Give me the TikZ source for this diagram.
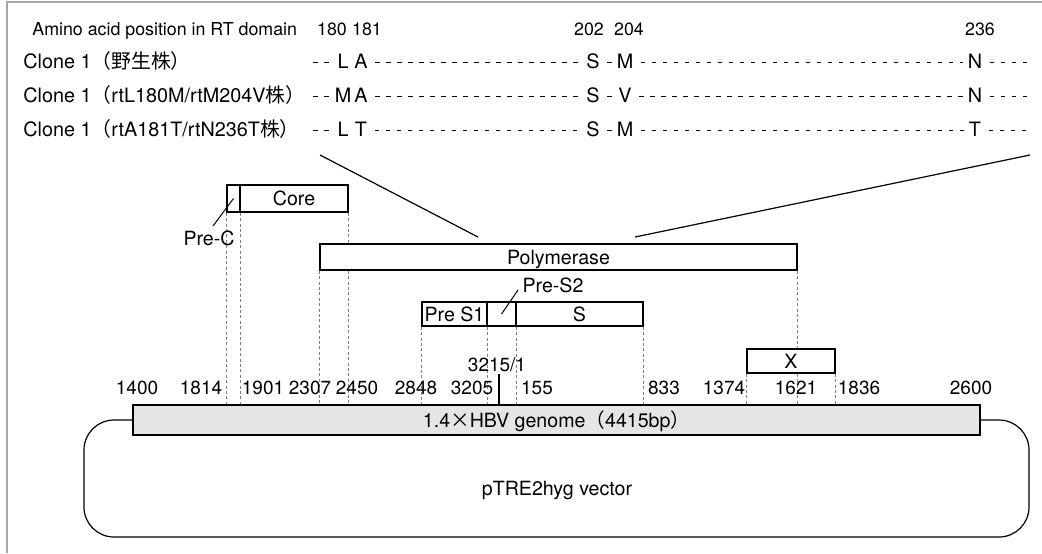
\documentclass[tikz,border=0pt]{standalone}
\usepackage{fontspec}
\setmainfont{TeX Gyre Heros}
\newfontfamily\cjk{Noto Sans CJK JP}
\usetikzlibrary{fit}

\newcommand{\lab}{\fontsize{9.8}{11}\selectfont}
\newcommand{\numf}{\fontsize{9.5}{11}\selectfont}
\newcommand{\hdr}{\fontsize{8.9}{10}\selectfont}
\newcommand{\cln}{\fontsize{9.9}{11}\selectfont}

\begin{document}
\begin{tikzpicture}[x=0.5pt, y=-0.5pt,
  gene/.style={draw, line width=0.7pt, inner sep=0pt},
  boxlab/.style={inner sep=0pt, font=\lab, text height=7pt, text depth=0pt},
  guide/.style={draw=black!50, line width=0.4pt, dash pattern=on 1.5pt off 1.2pt},
  numlab/.style={inner sep=0pt, anchor=base, font=\numf},
  hdrlab/.style={inner sep=0pt, anchor=base, font=\hdr},
  clone/.style={inner sep=0pt, anchor=base west, font=\cln},
  aa/.style={inner sep=2pt, font=\cln},
  seq/.style={line width=0.6pt, dash pattern=on 2.3pt off 3.2pt, dash phase=3.9pt, transform canvas={yshift=-0.8pt}},
  zoomline/.style={line width=0.6pt}
]
  \useasboundingbox (0,0) rectangle (1042,553);
  % frame of the scanned page
  \draw[black!35, line width=0.8pt] (1042,2) -- (7,2) -- (7,553);

  % Amino acid table
  \node[hdrlab, anchor=base west] (head) at (32,35) {Amino acid position in RT domain};
  \foreach \x/\n in {332/180, 367/181, 589/202, 629/204, 980/236}
    \node[hdrlab] (h\n) at (\x,35) {\n};
  \node[clone] (clone1) at (23,68) {Clone 1{\cjk （野生株）}};
  \node[clone] (clone2) at (23,102) {Clone 1{\cjk （}rtL180M/rtM204V{\cjk 株）}};
  \node[clone] (clone3) at (23,136) {Clone 1{\cjk （}rtA181T/rtN236T{\cjk 株）}};

  \foreach \row/\yy/\fa/\fb/\fc/\fd/\fe in {1/61/L/A/S/M/N, 2/95/M/A/S/V/N, 3/129/L/T/S/M/T} {
    \coordinate (s\row) at (310,\yy);
    \coordinate (t\row) at (1031,\yy);
    \node[aa] (r\row l180) at (343,\yy) {\fa};
    \node[aa] (r\row l181) at (361,\yy) {\fb};
    \node[aa] (r\row l202) at (593,\yy) {\fc};
    \node[aa] (r\row l204) at (625,\yy) {\fd};
    \node[aa] (r\row l236) at (975,\yy) {\fe};
    \draw[seq] (s\row) -- (r\row l180.west) (r\row l181.east) -- (r\row l202.west)
      (r\row l202.east) -- (r\row l204.west) (r\row l204.east) -- (r\row l236.west)
      (r\row l236.east) -- (t\row);
  }

  % zoom from polymerase to RT domain
  \coordinate (zl1) at (320,155); \coordinate (zl2) at (478,237);
  \coordinate (zr1) at (1030,155); \coordinate (zr2) at (635,237);
  \draw[zoomline] (zl1) -- (zl2) (zr1) -- (zr2);

  % genes
  \node[gene, fit={(227,185) (240,212)}] (pc) {};
  \node[gene, fit={(240,185) (348,212)}] (core) {};
  \node[gene, fit={(320,244) (797,270)}] (pol) {};
  \node[gene, fit={(422,302) (487,326)}] (s1) {};
  \node[gene, fit={(487,302) (516,326)}] (s2) {};
  \node[gene, fit={(516,302) (643,326)}] (sg) {};
  \node[gene, fit={(747,349) (835,373)}] (xg) {};
  \node[gene, fill=black!10, fit={(133,405) (980,435)}] (hbv) {};
  \node[boxlab] (coret) at (core) {Core};
  \node[boxlab] (polt) at (pol) {Polymerase};
  \node[boxlab] (s1t) at (s1) {Pre S1};
  \node[boxlab] (sgt) at (sg) {S};
  \node[boxlab] (xgt) at (xg) {X};
  \node[boxlab] (hbvt) at (hbv) {1.4{\cjk ×}HBV genome{\cjk （}4415bp{\cjk ）}};

  % guides down to the genome
  \foreach \a in {pc.south west, pc.south east, pol.south west, s1.south west, s1.south east, s2.south east, sg.south east, xg.south west, xg.south east}
    \draw[guide] (\a) -- (\a |- hbv.north);
  \draw[guide] (core.south east) -- (core.south east |- pol.north);
  \draw[guide] (pol.south -| core.south east) -- (core.south east |- hbv.north);
  \draw[guide] (pol.south east) -- (pol.south east |- xg.north);
  \draw[guide] (xg.south -| pol.south east) -- (pol.south east |- hbv.north);

  % labels and leaders
  \node[numlab, font=\lab] (prec) at (209,245) {Pre-C};
  \node[numlab, font=\lab] (ps2lab) at (553,292) {Pre-S2};
  \node[numlab] (jlab) at (497,371) {3215/1};
  \draw[line width=0.5pt] ([xshift=2pt, yshift=2pt]prec.north) -- (pc.center);
  \draw[line width=0.5pt] (s2.center) -- ([xshift=-2pt, yshift=1.5pt]ps2lab.south west);
  \coordinate (junc) at (499,374);
  \draw[line width=0.6pt] (junc) -- (junc |- hbv.north);

  % genome positions
  \foreach \x/\n in {137/1400, 201/1814, 263/1901, 310/2307, 357/2450, 416/2848, 472/3205, 537/155, 664/833, 724/1374, 796/1621, 859/1836, 971/2600}
    \node[numlab] (n\n) at (\x,394) {\n};

  % vector
  \draw[line width=0.6pt, rounded corners=15pt] (hbv.west) -| (84,537) -- (1029,537) |- (hbv.east);
  \node[numlab, font=\lab] (vec) at (557,495) {pTRE2hyg vector};
\end{tikzpicture}
\end{document}
